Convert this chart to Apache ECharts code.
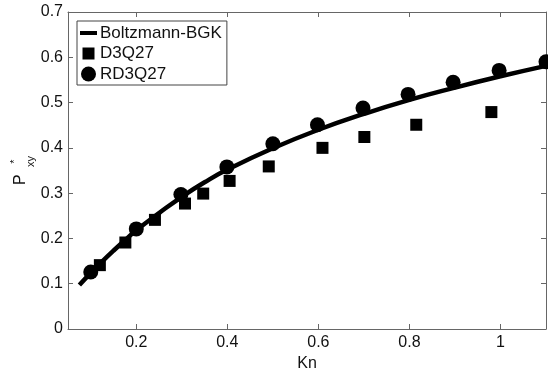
<!DOCTYPE html>
<html>
<head>
<meta charset="utf-8">
<script src="https://cdn.jsdelivr.net/npm/echarts@6/dist/echarts.min.js"></script>
<style>html,body{margin:0;padding:0;background:#fff}#c{width:548px;height:370px}</style>
</head>
<body>
<div id="c"></div>
<script>
// Boltzmann-BGK curve
const bgkKn = [0.075,0.1,0.125,0.15,0.175,0.2,0.25,0.3,0.35,0.4,0.5,0.6,0.7,0.8,0.9,1.0,1.1];
const bgkP  = [0.097,0.124,0.149,0.173,0.196,0.218,0.256,0.292,0.324,0.352,0.399,0.440,0.475,0.506,0.533,0.558,0.581];
// D3Q27 squares
const d3Kn = [0.12,0.176,0.241,0.307,0.347,0.405,0.491,0.609,0.701,0.815,0.98];
const d3P  = [0.141,0.191,0.241,0.277,0.299,0.327,0.359,0.400,0.424,0.451,0.479];
// RD3Q27 circles
const rdKn = [0.1,0.2,0.298,0.399,0.5,0.598,0.698,0.797,0.896,0.997,1.1];
const rdP  = [0.126,0.221,0.297,0.358,0.409,0.451,0.488,0.518,0.545,0.571,0.590];
// ticks
const xTicks = [0.2,0.4,0.6,0.8,1];
const yTicks = [0,0.1,0.2,0.3,0.4,0.5,0.6,0.7];
const seriesNames = ['Boltzmann-BGK','D3Q27','RD3Q27'];

const zip = (a,b) => a.map((v,i)=>[v,b[i]]);
const FONT = '"Liberation Sans", Arial, sans-serif';
const AX = '#666';
const xMin = 0.05, xMax = 1.1, yMin = 0, yMax = 0.7;

const chart = echarts.init(document.getElementById('c'), null, {renderer:'canvas'});
const baseX = {
  type:'value', min:xMin, max:xMax,
  axisLine:{show:true, onZero:false, lineStyle:{color:AX, width:1}},
  axisTick:{show:true, inside:true, length:5, customValues:xTicks, lineStyle:{color:AX}},
  splitLine:{show:false}
};
const baseY = {
  type:'value', min:yMin, max:yMax, interval:0.1,
  axisLine:{show:true, onZero:false, lineStyle:{color:AX, width:1}},
  axisTick:{show:true, inside:true, length:5, customValues:yTicks, lineStyle:{color:AX}},
  splitLine:{show:false}
};
chart.setOption({
  animation:false,
  backgroundColor:'#fff',
  textStyle:{fontFamily:FONT},
  grid:{left:68, right:2, top:12, bottom:41, containLabel:false, outerBoundsMode:'none'},
  xAxis:[
    Object.assign({}, baseX, {
      position:'bottom',
      name:'Kn', nameLocation:'middle', nameGap:20,
      nameTextStyle:{fontFamily:FONT, fontSize:16, color:'#111'},
      axisLabel:{show:true, customValues:xTicks, margin:6, fontFamily:FONT, fontSize:16, color:'#111',
        formatter:v=>String(+v.toFixed(2))}
    }),
    Object.assign({}, baseX, {position:'top', axisLabel:{show:false}})
  ],
  yAxis:[
    Object.assign({}, baseY, {
      position:'left',
      axisLabel:{show:true, customValues:yTicks, margin:5, fontFamily:FONT, fontSize:16, color:'#111',
        formatter:v=>String(+v.toFixed(2))}
    }),
    Object.assign({}, baseY, {position:'right', axisLabel:{show:false}})
  ],
  legend:{
    orient:'vertical', left:77, top:21,
    padding:[3.5,5,2.5,3], itemGap:3.5, itemWidth:17, itemHeight:15,
    borderColor:'#444', borderWidth:1, backgroundColor:'#fff',
    textStyle:{fontFamily:FONT, fontSize:17, color:'#111', padding:[0,0,0,-2]},
    data:[
      {name:seriesNames[0], icon:'path://M0,0M17,15M0,5.5h17v4h-17z'},
      {name:seriesNames[1], icon:'path://M0,0M17,15M2.5,1.5h12v12h-12z'},
      {name:seriesNames[2], icon:'circle'}
    ]
  },
  series:[
    {name:seriesNames[0], type:'line', smooth:true, symbol:'none',
     data:zip(bgkKn,bgkP), lineStyle:{color:'#000', width:4.5}, itemStyle:{color:'#000'}, z:3},
    {name:seriesNames[1], type:'scatter', symbol:'rect', symbolSize:12,
     data:zip(d3Kn,d3P), itemStyle:{color:'#000', opacity:1}, z:2},
    {name:seriesNames[2], type:'scatter', symbol:'circle', symbolSize:15,
     data:zip(rdKn,rdP), itemStyle:{color:'#000', opacity:1}, z:4}
  ],
  graphic:[{
    type:'group', x:20.5, y:185, rotation:Math.PI/2,
    children:[
      {type:'text', x:0, y:0, style:{text:'P', font:'16px '+FONT, fill:'#111', align:'left', verticalAlign:'middle'}},
      {type:'text', x:23.5, y:-5.5, style:{text:'*', font:'11px '+FONT, fill:'#111', align:'center', verticalAlign:'middle'}},
      {type:'text', x:23.5, y:10.5, style:{text:'xy', font:'11px '+FONT, fill:'#111', align:'center', verticalAlign:'middle'}}
    ]
  }]
});
</script>
</body>
</html>
